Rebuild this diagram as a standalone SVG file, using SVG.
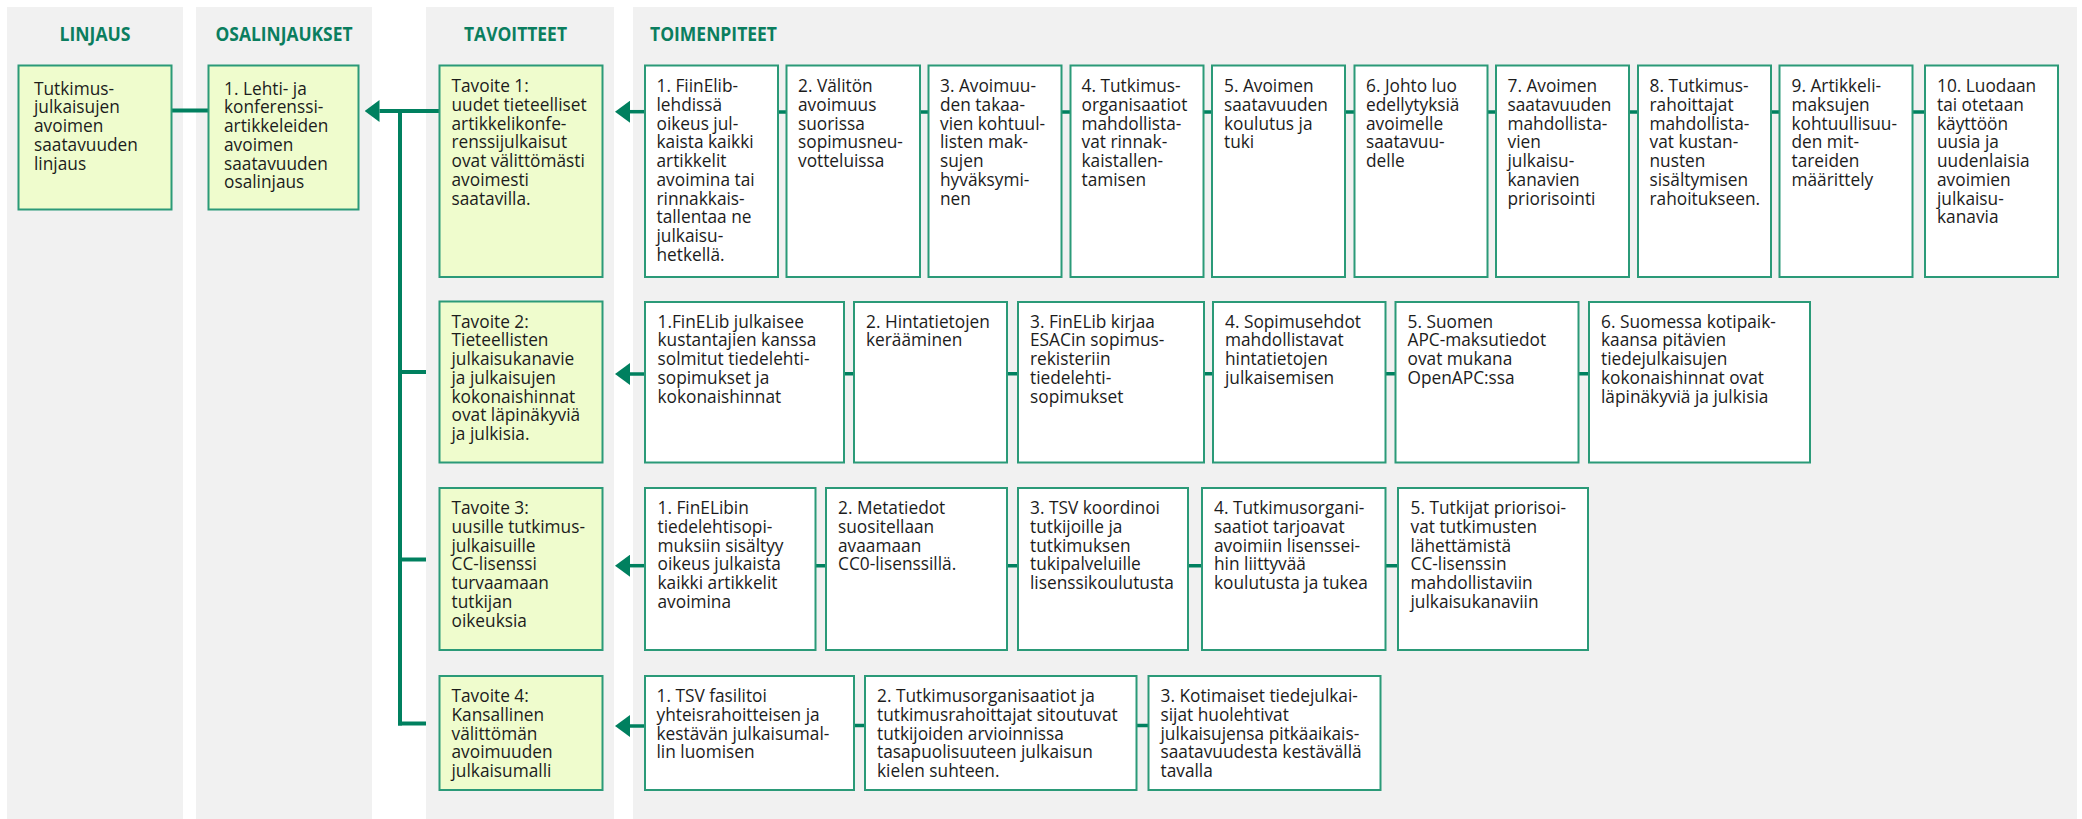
<svg xmlns="http://www.w3.org/2000/svg" width="2082" height="819" viewBox="0 0 2082 819">
<defs>
<style>
.col{fill:#f1f1f1}
.hd{font-family:"Open Sans","Noto Sans",sans-serif;font-weight:700;font-size:19.5px;fill:#0b7e5f}
.g{fill:#effccd;stroke:#2b9a78;stroke-width:2}
.w{fill:#ffffff;stroke:#2b9a78;stroke-width:2}
.t{font-family:"Open Sans","Noto Sans",sans-serif;font-size:17.3px;fill:#1c1c1c}
.ln{fill:none;stroke:#00805f;stroke-width:4}
.cn{fill:none;stroke:#00805f;stroke-width:3.5}
</style>
<marker id="ah" viewBox="0 -11 15 22" refX="0" refY="0" markerWidth="15" markerHeight="22" markerUnits="userSpaceOnUse" orient="auto">
<path d="M0,-11 L15,0 L0,11 z" fill="#00805f"/>
</marker>
</defs>

<g id="columns">
<rect class="col" x="7" y="7" width="176" height="812"/>
<rect class="col" x="196" y="7" width="176" height="812"/>
<rect class="col" x="426" y="7" width="188" height="812"/>
<rect class="col" x="633" y="7" width="1444" height="812"/>
<text class="hd" x="95" y="40.5" text-anchor="middle" textLength="71" lengthAdjust="spacingAndGlyphs">LINJAUS</text>
<text class="hd" x="284" y="40.5" text-anchor="middle" textLength="137" lengthAdjust="spacingAndGlyphs">OSALINJAUKSET</text>
<text class="hd" x="515.5" y="40.5" text-anchor="middle" textLength="103" lengthAdjust="spacingAndGlyphs">TAVOITTEET</text>
<text class="hd" x="650" y="40.5" textLength="127" lengthAdjust="spacingAndGlyphs">TOIMENPITEET</text>
</g>

<g id="connectors">
<line class="ln" x1="171.5" y1="110.5" x2="208.5" y2="110.5"/>
<line class="ln" x1="439.5" y1="111" x2="379.5" y2="111" marker-end="url(#ah)"/>
<line class="ln" x1="400" y1="109" x2="400" y2="725.5"/>
<line class="ln" x1="398" y1="372" x2="426" y2="372"/>
<line class="ln" x1="398" y1="559.5" x2="426" y2="559.5"/>
<line class="ln" x1="398" y1="723.5" x2="426" y2="723.5"/>
<!-- row 1 actions -->
<line class="cn" x1="645" y1="111.7" x2="630" y2="111.7" marker-end="url(#ah)"/>
<path class="cn" d="M778 112H786.5M920 112H928.5M1061.5 112H1070.5M1203.5 112H1212M1345 112H1354.5M1487.5 112H1496M1629 112H1638M1771 112H1779.5M1912.5 112H1925"/>
<!-- row 2 -->
<line class="cn" x1="645" y1="374" x2="630" y2="374" marker-end="url(#ah)"/>
<path class="cn" d="M844 373.7H854M1007 373.7H1018M1204 373.7H1213M1385.5 373.7H1395.5M1578.5 373.7H1589"/>
<!-- row 3 -->
<line class="cn" x1="645" y1="565.7" x2="630" y2="565.7" marker-end="url(#ah)"/>
<path class="cn" d="M815.5 565.7H826M1007 565.7H1018M1188 565.7H1202M1385.5 565.7H1398"/>
<!-- row 4 -->
<line class="cn" x1="645" y1="726" x2="630" y2="726" marker-end="url(#ah)"/>
<path class="cn" d="M854 725.5H865M1136.5 725.5H1148.5"/>
</g>

<g id="linjaus">
<rect class="g" x="18.5" y="65.5" width="153" height="144"/>
<text class="t" x="34" y="94.5"><tspan x="34">Tutkimus-</tspan><tspan x="34" dy="18.75">julkaisujen</tspan><tspan x="34" dy="18.75">avoimen</tspan><tspan x="34" dy="18.75">saatavuuden</tspan><tspan x="34" dy="18.75">linjaus</tspan></text>
</g>

<g id="osalinjaus">
<rect class="g" x="208.5" y="65.5" width="150" height="144"/>
<text class="t" x="224" y="94.5"><tspan x="224">1. Lehti- ja</tspan><tspan x="224" dy="18.75">konferenssi-</tspan><tspan x="224" dy="18.75">artikkeleiden</tspan><tspan x="224" dy="18.75">avoimen</tspan><tspan x="224" dy="18.75">saatavuuden</tspan><tspan x="224" dy="18.75">osalinjaus</tspan></text>
</g>

<g id="tavoite1">
<rect class="g" x="439.5" y="65.5" width="163" height="211.5"/>
<text class="t" y="92"><tspan x="451.5">Tavoite 1:</tspan><tspan x="451.5" dy="18.75">uudet tieteelliset</tspan><tspan x="451.5" dy="18.75">artikkelikonfe-</tspan><tspan x="451.5" dy="18.75">renssijulkaisut</tspan><tspan x="451.5" dy="18.75">ovat välittömästi</tspan><tspan x="451.5" dy="18.75">avoimesti</tspan><tspan x="451.5" dy="18.75">saatavilla.</tspan></text>
</g>

<g id="tavoite2">
<rect class="g" x="439.5" y="301.5" width="163" height="161"/>
<text class="t" y="327.5"><tspan x="451.5">Tavoite 2:</tspan><tspan x="451.5" dy="18.75">Tieteellisten</tspan><tspan x="451.5" dy="18.75">julkaisukanavie</tspan><tspan x="451.5" dy="18.75">ja julkaisujen</tspan><tspan x="451.5" dy="18.75">kokonaishinnat</tspan><tspan x="451.5" dy="18.75">ovat läpinäkyviä</tspan><tspan x="451.5" dy="18.75">ja julkisia.</tspan></text>
</g>

<g id="tavoite3">
<rect class="g" x="439.5" y="488" width="163" height="162"/>
<text class="t" y="514"><tspan x="451.5">Tavoite 3:</tspan><tspan x="451.5" dy="18.75">uusille tutkimus-</tspan><tspan x="451.5" dy="18.75">julkaisuille</tspan><tspan x="451.5" dy="18.75">CC-lisenssi</tspan><tspan x="451.5" dy="18.75">turvaamaan</tspan><tspan x="451.5" dy="18.75">tutkijan</tspan><tspan x="451.5" dy="18.75">oikeuksia</tspan></text>
</g>

<g id="tavoite4">
<rect class="g" x="439.5" y="676" width="163" height="114"/>
<text class="t" y="702"><tspan x="451.5">Tavoite 4:</tspan><tspan x="451.5" dy="18.75">Kansallinen</tspan><tspan x="451.5" dy="18.75">välittömän</tspan><tspan x="451.5" dy="18.75">avoimuuden</tspan><tspan x="451.5" dy="18.75">julkaisumalli</tspan></text>
</g>

<!-- Row 1 actions -->
<g id="t1a1">
<rect class="w" x="645" y="65.5" width="133" height="211.5"/>
<text class="t" y="92"><tspan x="656.5">1. FiinElib-</tspan><tspan x="656.5" dy="18.75">lehdissä</tspan><tspan x="656.5" dy="18.75">oikeus jul-</tspan><tspan x="656.5" dy="18.75">kaista kaikki</tspan><tspan x="656.5" dy="18.75">artikkelit</tspan><tspan x="656.5" dy="18.75">avoimina tai</tspan><tspan x="656.5" dy="18.75">rinnakkais-</tspan><tspan x="656.5" dy="18.75">tallentaa ne</tspan><tspan x="656.5" dy="18.75">julkaisu-</tspan><tspan x="656.5" dy="18.75">hetkellä.</tspan></text>
</g>
<g id="t1a2">
<rect class="w" x="786.5" y="65.5" width="133.5" height="211.5"/>
<text class="t" y="92"><tspan x="798">2. Välitön</tspan><tspan x="798" dy="18.75">avoimuus</tspan><tspan x="798" dy="18.75">suorissa</tspan><tspan x="798" dy="18.75">sopimusneu-</tspan><tspan x="798" dy="18.75">votteluissa</tspan></text>
</g>
<g id="t1a3">
<rect class="w" x="928.5" y="65.5" width="133" height="211.5"/>
<text class="t" y="92"><tspan x="940">3. Avoimuu-</tspan><tspan x="940" dy="18.75">den takaa-</tspan><tspan x="940" dy="18.75">vien kohtuul-</tspan><tspan x="940" dy="18.75">listen mak-</tspan><tspan x="940" dy="18.75">sujen</tspan><tspan x="940" dy="18.75">hyväksymi-</tspan><tspan x="940" dy="18.75">nen</tspan></text>
</g>
<g id="t1a4">
<rect class="w" x="1070.5" y="65.5" width="133" height="211.5"/>
<text class="t" y="92"><tspan x="1081.5">4. Tutkimus-</tspan><tspan x="1081.5" dy="18.75">organisaatiot</tspan><tspan x="1081.5" dy="18.75">mahdollista-</tspan><tspan x="1081.5" dy="18.75">vat rinnak-</tspan><tspan x="1081.5" dy="18.75">kaistallen-</tspan><tspan x="1081.5" dy="18.75">tamisen</tspan></text>
</g>
<g id="t1a5">
<rect class="w" x="1212" y="65.5" width="133" height="211.5"/>
<text class="t" y="92"><tspan x="1224">5. Avoimen</tspan><tspan x="1224" dy="18.75">saatavuuden</tspan><tspan x="1224" dy="18.75">koulutus ja</tspan><tspan x="1224" dy="18.75">tuki</tspan></text>
</g>
<g id="t1a6">
<rect class="w" x="1354.5" y="65.5" width="133" height="211.5"/>
<text class="t" y="92"><tspan x="1366">6. Johto luo</tspan><tspan x="1366" dy="18.75">edellytyksiä</tspan><tspan x="1366" dy="18.75">avoimelle</tspan><tspan x="1366" dy="18.75">saatavuu-</tspan><tspan x="1366" dy="18.75">delle</tspan></text>
</g>
<g id="t1a7">
<rect class="w" x="1496" y="65.5" width="133" height="211.5"/>
<text class="t" y="92"><tspan x="1507.5">7. Avoimen</tspan><tspan x="1507.5" dy="18.75">saatavuuden</tspan><tspan x="1507.5" dy="18.75">mahdollista-</tspan><tspan x="1507.5" dy="18.75">vien</tspan><tspan x="1507.5" dy="18.75">julkaisu-</tspan><tspan x="1507.5" dy="18.75">kanavien</tspan><tspan x="1507.5" dy="18.75">priorisointi</tspan></text>
</g>
<g id="t1a8">
<rect class="w" x="1638" y="65.5" width="133" height="211.5"/>
<text class="t" y="92"><tspan x="1649.5">8. Tutkimus-</tspan><tspan x="1649.5" dy="18.75">rahoittajat</tspan><tspan x="1649.5" dy="18.75">mahdollista-</tspan><tspan x="1649.5" dy="18.75">vat kustan-</tspan><tspan x="1649.5" dy="18.75">nusten</tspan><tspan x="1649.5" dy="18.75">sisältymisen</tspan><tspan x="1649.5" dy="18.75">rahoitukseen.</tspan></text>
</g>
<g id="t1a9">
<rect class="w" x="1779.5" y="65.5" width="133" height="211.5"/>
<text class="t" y="92"><tspan x="1791.5">9. Artikkeli-</tspan><tspan x="1791.5" dy="18.75">maksujen</tspan><tspan x="1791.5" dy="18.75">kohtuullisuu-</tspan><tspan x="1791.5" dy="18.75">den mit-</tspan><tspan x="1791.5" dy="18.75">tareiden</tspan><tspan x="1791.5" dy="18.75">määrittely</tspan></text>
</g>
<g id="t1a10">
<rect class="w" x="1925" y="65.5" width="133" height="211.5"/>
<text class="t" y="92"><tspan x="1937">10. Luodaan</tspan><tspan x="1937" dy="18.75">tai otetaan</tspan><tspan x="1937" dy="18.75">käyttöön</tspan><tspan x="1937" dy="18.75">uusia ja</tspan><tspan x="1937" dy="18.75">uudenlaisia</tspan><tspan x="1937" dy="18.75">avoimien</tspan><tspan x="1937" dy="18.75">julkaisu-</tspan><tspan x="1937" dy="18.75">kanavia</tspan></text>
</g>

<!-- Row 2 actions -->
<g id="t2a1">
<rect class="w" x="645" y="302" width="199" height="160.5"/>
<text class="t" y="327.5"><tspan x="657.5">1.FinELib julkaisee</tspan><tspan x="657.5" dy="18.75">kustantajien kanssa</tspan><tspan x="657.5" dy="18.75">solmitut tiedelehti-</tspan><tspan x="657.5" dy="18.75">sopimukset ja</tspan><tspan x="657.5" dy="18.75">kokonaishinnat</tspan></text>
</g>
<g id="t2a2">
<rect class="w" x="854" y="302" width="153" height="160.5"/>
<text class="t" y="327.5"><tspan x="866">2. Hintatietojen</tspan><tspan x="866" dy="18.75">kerääminen</tspan></text>
</g>
<g id="t2a3">
<rect class="w" x="1018" y="302" width="186" height="160.5"/>
<text class="t" y="327.5"><tspan x="1030">3. FinELib kirjaa</tspan><tspan x="1030" dy="18.75">ESACin sopimus-</tspan><tspan x="1030" dy="18.75">rekisteriin</tspan><tspan x="1030" dy="18.75">tiedelehti-</tspan><tspan x="1030" dy="18.75">sopimukset</tspan></text>
</g>
<g id="t2a4">
<rect class="w" x="1213" y="302" width="172.5" height="160.5"/>
<text class="t" y="327.5"><tspan x="1225">4. Sopimusehdot</tspan><tspan x="1225" dy="18.75">mahdollistavat</tspan><tspan x="1225" dy="18.75">hintatietojen</tspan><tspan x="1225" dy="18.75">julkaisemisen</tspan></text>
</g>
<g id="t2a5">
<rect class="w" x="1395.5" y="302" width="183" height="160.5"/>
<text class="t" y="327.5"><tspan x="1407.5">5. Suomen</tspan><tspan x="1407.5" dy="18.75">APC-maksutiedot</tspan><tspan x="1407.5" dy="18.75">ovat mukana</tspan><tspan x="1407.5" dy="18.75">OpenAPC:ssa</tspan></text>
</g>
<g id="t2a6">
<rect class="w" x="1589" y="302" width="221" height="160.5"/>
<text class="t" y="327.5"><tspan x="1601">6. Suomessa kotipaik-</tspan><tspan x="1601" dy="18.75">kaansa pitävien</tspan><tspan x="1601" dy="18.75">tiedejulkaisujen</tspan><tspan x="1601" dy="18.75">kokonaishinnat ovat</tspan><tspan x="1601" dy="18.75">läpinäkyviä ja julkisia</tspan></text>
</g>

<!-- Row 3 actions -->
<g id="t3a1">
<rect class="w" x="645" y="488" width="170.5" height="162"/>
<text class="t" y="514"><tspan x="657.5">1. FinELibin</tspan><tspan x="657.5" dy="18.75">tiedelehtisopi-</tspan><tspan x="657.5" dy="18.75">muksiin sisältyy</tspan><tspan x="657.5" dy="18.75">oikeus julkaista</tspan><tspan x="657.5" dy="18.75">kaikki artikkelit</tspan><tspan x="657.5" dy="18.75">avoimina</tspan></text>
</g>
<g id="t3a2">
<rect class="w" x="826" y="488" width="181" height="162"/>
<text class="t" y="514"><tspan x="838">2. Metatiedot</tspan><tspan x="838" dy="18.75">suositellaan</tspan><tspan x="838" dy="18.75">avaamaan</tspan><tspan x="838" dy="18.75">CC0-lisenssillä.</tspan></text>
</g>
<g id="t3a3">
<rect class="w" x="1018" y="488" width="170" height="162"/>
<text class="t" y="514"><tspan x="1030">3. TSV koordinoi</tspan><tspan x="1030" dy="18.75">tutkijoille ja</tspan><tspan x="1030" dy="18.75">tutkimuksen</tspan><tspan x="1030" dy="18.75">tukipalveluille</tspan><tspan x="1030" dy="18.75">lisenssikoulutusta</tspan></text>
</g>
<g id="t3a4">
<rect class="w" x="1202" y="488" width="183.5" height="162"/>
<text class="t" y="514"><tspan x="1214">4. Tutkimusorgani-</tspan><tspan x="1214" dy="18.75">saatiot tarjoavat</tspan><tspan x="1214" dy="18.75">avoimiin lisenssei-</tspan><tspan x="1214" dy="18.75">hin liittyvää</tspan><tspan x="1214" dy="18.75">koulutusta ja tukea</tspan></text>
</g>
<g id="t3a5">
<rect class="w" x="1398" y="488" width="190" height="162"/>
<text class="t" y="514"><tspan x="1410.5">5. Tutkijat priorisoi-</tspan><tspan x="1410.5" dy="18.75">vat tutkimusten</tspan><tspan x="1410.5" dy="18.75">lähettämistä</tspan><tspan x="1410.5" dy="18.75">CC-lisenssin</tspan><tspan x="1410.5" dy="18.75">mahdollistaviin</tspan><tspan x="1410.5" dy="18.75">julkaisukanaviin</tspan></text>
</g>

<!-- Row 4 actions -->
<g id="t4a1">
<rect class="w" x="645" y="676" width="209" height="114"/>
<text class="t" y="702"><tspan x="656.5">1. TSV fasilitoi</tspan><tspan x="656.5" dy="18.75">yhteisrahoitteisen ja</tspan><tspan x="656.5" dy="18.75">kestävän julkaisumal-</tspan><tspan x="656.5" dy="18.75">lin luomisen</tspan></text>
</g>
<g id="t4a2">
<rect class="w" x="865" y="676" width="271.5" height="114"/>
<text class="t" y="702"><tspan x="877">2. Tutkimusorganisaatiot ja</tspan><tspan x="877" dy="18.75">tutkimusrahoittajat sitoutuvat</tspan><tspan x="877" dy="18.75">tutkijoiden arvioinnissa</tspan><tspan x="877" dy="18.75">tasapuolisuuteen julkaisun</tspan><tspan x="877" dy="18.75">kielen suhteen.</tspan></text>
</g>
<g id="t4a3">
<rect class="w" x="1148.5" y="676" width="232" height="114"/>
<text class="t" y="702"><tspan x="1160.5">3. Kotimaiset tiedejulkai-</tspan><tspan x="1160.5" dy="18.75">sijat huolehtivat</tspan><tspan x="1160.5" dy="18.75">julkaisujensa pitkäaikais-</tspan><tspan x="1160.5" dy="18.75">saatavuudesta kestävällä</tspan><tspan x="1160.5" dy="18.75">tavalla</tspan></text>
</g>
</svg>
